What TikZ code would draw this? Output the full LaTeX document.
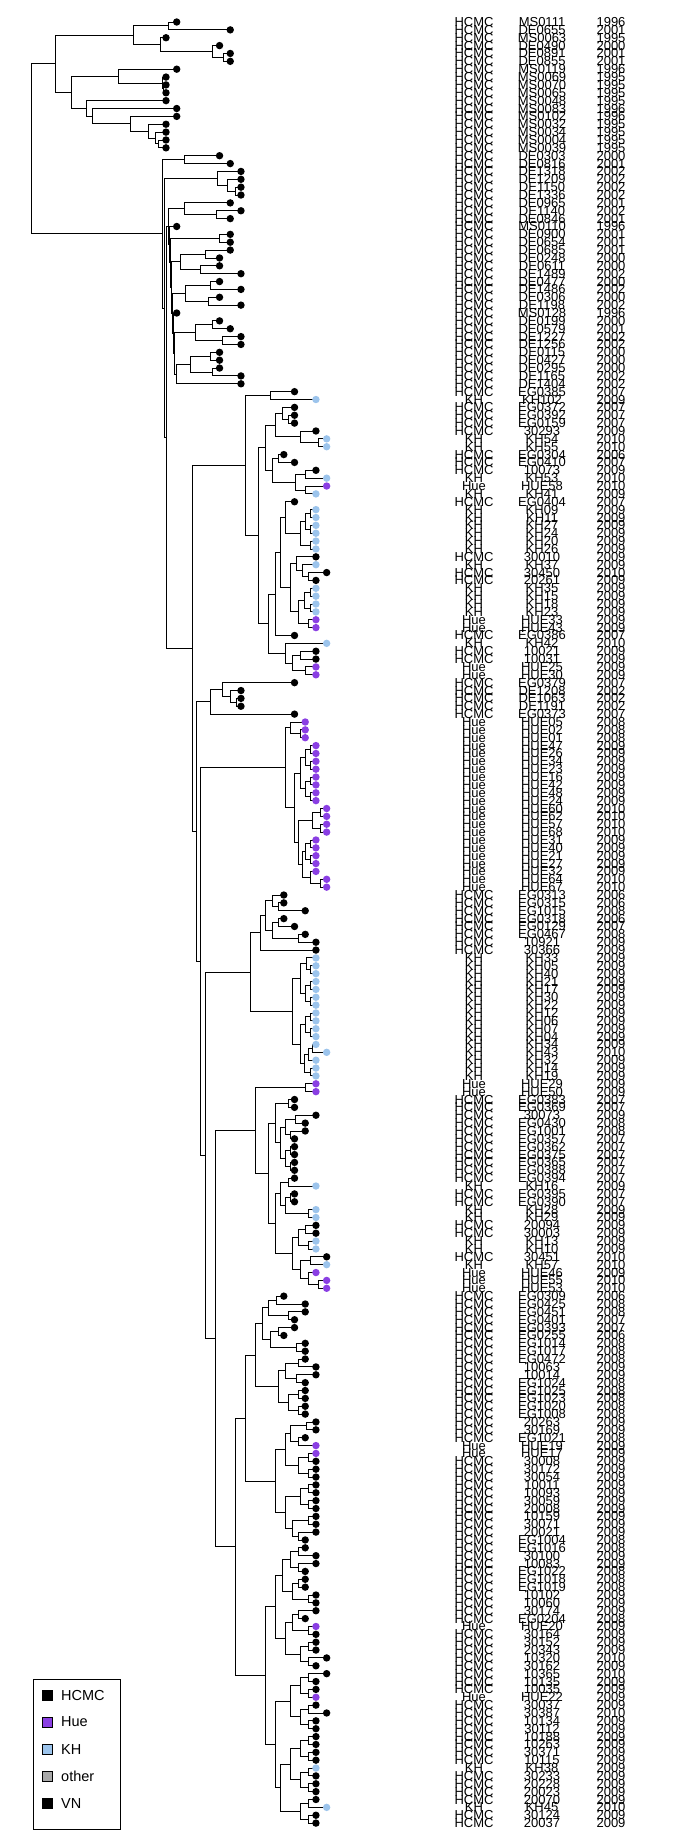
\documentclass[tikz,border=0pt]{standalone}
\usepackage{fontspec}
\setmainfont{Liberation Sans}
\usetikzlibrary{calc}
\pgfdeclarelayer{bg}
\pgfsetlayers{bg,main}
\definecolor{huec}{HTML}{8A3FE3}
\definecolor{khc}{HTML}{9CC4EC}
\definecolor{othc}{HTML}{A8A8A8}
\tikzset{
  br/.style={line width=0.9pt, black},
  dH/.style={fill=black}, dU/.style={fill=huec}, dK/.style={fill=khc},
  lab/.style={inner sep=0pt, anchor=base, font=\fontsize{13}{13}\selectfont},
  legsq/.style={draw=black, line width=0.5pt, minimum size=10pt, inner sep=0pt},
  legtx/.style={anchor=west, inner sep=0pt, font=\fontsize{14.5}{14.5}\selectfont}
}
\def\regH{HCMC}\def\regU{Hue}\def\regK{KH}
% tip: index, region letter, id, year
\newcommand\T[4]{%
  \pgfmathsetmacro\ty{22+(#1-1)*7.865}%
  \pgfmathsetmacro\tx{166+10.71*(#4-1995)}%
  \coordinate (t#1) at (\tx,\ty);
  \fill[d#2] (t#1) circle (3.7pt);
  \node[lab] (r#1) at (474,\ty+4.5) {\csname reg#2\endcsname};
  \node[lab] (i#1) at (542,\ty+4.5) {#3};
  \node[lab] (y#1) at (611,\ty+4.5) {#4};
}
% internal node: name, x, child1, child2
\newcommand\N[4]{%
  \path let \p1=(#3), \p2=(#4) in coordinate (#1) at (#2,{0.5*(\y1+\y2)});
  \begin{pgfonlayer}{bg}\draw[br] (#1) |- (#3) (#1) |- (#4);\end{pgfonlayer}
}
% quartet: name, a,b,c,d, x1,x2,x3
\newcommand\Q[8]{\N{#1a}{#6}{t#2}{t#3}\N{#1b}{#7}{t#4}{t#5}\N{#1}{#8}{#1a}{#1b}}
\begin{document}
\begin{tikzpicture}[x=1pt,y=-1pt]
\useasboundingbox (0,0) rectangle (675,1845);
\begin{pgfonlayer}{bg}\fill[white] (0,0) rectangle (675,1845);\end{pgfonlayer}
\T{1}{H}{MS0111}{1996}
\T{2}{H}{DE0655}{2001}
\T{3}{H}{MS0063}{1995}
\T{4}{H}{DE0490}{2000}
\T{5}{H}{DE0891}{2001}
\T{6}{H}{DE0855}{2001}
\T{7}{H}{MS0119}{1996}
\T{8}{H}{MS0069}{1995}
\T{9}{H}{MS0070}{1995}
\T{10}{H}{MS0065}{1995}
\T{11}{H}{MS0048}{1995}
\T{12}{H}{MS0083}{1996}
\T{13}{H}{MS0102}{1996}
\T{14}{H}{MS0032}{1995}
\T{15}{H}{MS0034}{1995}
\T{16}{H}{MS0004}{1995}
\T{17}{H}{MS0039}{1995}
\T{18}{H}{DE0303}{2000}
\T{19}{H}{DE0816}{2001}
\T{20}{H}{DE1318}{2002}
\T{21}{H}{DE1209}{2002}
\T{22}{H}{DE1150}{2002}
\T{23}{H}{DE1336}{2002}
\T{24}{H}{DE0965}{2001}
\T{25}{H}{DE1140}{2002}
\T{26}{H}{DE0846}{2001}
\T{27}{H}{MS0110}{1996}
\T{28}{H}{DE0900}{2001}
\T{29}{H}{DE0654}{2001}
\T{30}{H}{DE0685}{2001}
\T{31}{H}{DE0248}{2000}
\T{32}{H}{DE0611}{2000}
\T{33}{H}{DE1489}{2002}
\T{34}{H}{DE0477}{2000}
\T{35}{H}{DE1486}{2002}
\T{36}{H}{DE0306}{2000}
\T{37}{H}{DE1198}{2002}
\T{38}{H}{MS0128}{1996}
\T{39}{H}{DE0199}{2000}
\T{40}{H}{DE0579}{2001}
\T{41}{H}{DE1227}{2002}
\T{42}{H}{DE1256}{2002}
\T{43}{H}{DE0115}{2000}
\T{44}{H}{DE0427}{2000}
\T{45}{H}{DE0295}{2000}
\T{46}{H}{DE1165}{2002}
\T{47}{H}{DE1404}{2002}
\T{48}{H}{EG0385}{2007}
\T{49}{K}{KH102}{2009}
\T{50}{H}{EG0372}{2007}
\T{51}{H}{EG0392}{2007}
\T{52}{H}{EG0159}{2007}
\T{53}{H}{30293}{2009}
\T{54}{K}{KH54}{2010}
\T{55}{K}{KH55}{2010}
\T{56}{H}{EG0304}{2006}
\T{57}{H}{EG0410}{2007}
\T{58}{H}{10073}{2009}
\T{59}{K}{KH53}{2010}
\T{60}{U}{HUE58}{2010}
\T{61}{K}{KH41}{2009}
\T{62}{H}{EG0404}{2007}
\T{63}{K}{KH09}{2009}
\T{64}{K}{KH11}{2009}
\T{65}{K}{KH27}{2009}
\T{66}{K}{KH24}{2009}
\T{67}{K}{KH20}{2009}
\T{68}{K}{KH26}{2009}
\T{69}{H}{30010}{2009}
\T{70}{K}{KH37}{2009}
\T{71}{H}{30450}{2010}
\T{72}{H}{20261}{2009}
\T{73}{K}{KH35}{2009}
\T{74}{K}{KH15}{2009}
\T{75}{K}{KH18}{2009}
\T{76}{K}{KH23}{2009}
\T{77}{U}{HUE33}{2009}
\T{78}{U}{HUE43}{2009}
\T{79}{H}{EG0386}{2007}
\T{80}{K}{KH42}{2010}
\T{81}{H}{10021}{2009}
\T{82}{H}{10031}{2009}
\T{83}{U}{HUE25}{2009}
\T{84}{U}{HUE30}{2009}
\T{85}{H}{EG0379}{2007}
\T{86}{H}{DE1208}{2002}
\T{87}{H}{DE1063}{2002}
\T{88}{H}{DE1191}{2002}
\T{89}{H}{EG0373}{2007}
\T{90}{U}{HUE05}{2008}
\T{91}{U}{HUE02}{2008}
\T{92}{U}{HUE01}{2008}
\T{93}{U}{HUE47}{2009}
\T{94}{U}{HUE26}{2009}
\T{95}{U}{HUE34}{2009}
\T{96}{U}{HUE23}{2009}
\T{97}{U}{HUE16}{2009}
\T{98}{U}{HUE42}{2009}
\T{99}{U}{HUE48}{2009}
\T{100}{U}{HUE24}{2009}
\T{101}{U}{HUE60}{2010}
\T{102}{U}{HUE62}{2010}
\T{103}{U}{HUE57}{2010}
\T{104}{U}{HUE68}{2010}
\T{105}{U}{HUE31}{2009}
\T{106}{U}{HUE40}{2009}
\T{107}{U}{HUE21}{2009}
\T{108}{U}{HUE27}{2009}
\T{109}{U}{HUE32}{2009}
\T{110}{U}{HUE64}{2010}
\T{111}{U}{HUE67}{2010}
\T{112}{H}{EG0313}{2006}
\T{113}{H}{EG0315}{2006}
\T{114}{H}{EG1015}{2008}
\T{115}{H}{EG0318}{2006}
\T{116}{H}{EG0129}{2007}
\T{117}{H}{EG0467}{2008}
\T{118}{H}{10921}{2009}
\T{119}{H}{30366}{2009}
\T{120}{K}{KH33}{2009}
\T{121}{K}{KH05}{2009}
\T{122}{K}{KH40}{2009}
\T{123}{K}{KH21}{2009}
\T{124}{K}{KH17}{2009}
\T{125}{K}{KH30}{2009}
\T{126}{K}{KH22}{2009}
\T{127}{K}{KH12}{2009}
\T{128}{K}{KH06}{2009}
\T{129}{K}{KH07}{2009}
\T{130}{K}{KH04}{2009}
\T{131}{K}{KH34}{2009}
\T{132}{K}{KH43}{2010}
\T{133}{K}{KH32}{2009}
\T{134}{K}{KH14}{2009}
\T{135}{K}{KH19}{2009}
\T{136}{U}{HUE29}{2009}
\T{137}{U}{HUE50}{2009}
\T{138}{H}{EG0383}{2007}
\T{139}{H}{EG0369}{2007}
\T{140}{H}{30073}{2009}
\T{141}{H}{EG0430}{2008}
\T{142}{H}{EG1001}{2008}
\T{143}{H}{EG0357}{2007}
\T{144}{H}{EG0362}{2007}
\T{145}{H}{EG0375}{2007}
\T{146}{H}{EG0365}{2007}
\T{147}{H}{EG0388}{2007}
\T{148}{H}{EG0394}{2007}
\T{149}{K}{KH16}{2009}
\T{150}{H}{EG0395}{2007}
\T{151}{H}{EG0390}{2007}
\T{152}{K}{KH28}{2009}
\T{153}{K}{KH29}{2009}
\T{154}{H}{20094}{2009}
\T{155}{H}{30003}{2009}
\T{156}{K}{KH13}{2009}
\T{157}{K}{KH10}{2009}
\T{158}{H}{30451}{2010}
\T{159}{K}{KH57}{2010}
\T{160}{U}{HUE46}{2009}
\T{161}{U}{HUE55}{2010}
\T{162}{U}{HUE53}{2010}
\T{163}{H}{EG0309}{2006}
\T{164}{H}{EG0425}{2008}
\T{165}{H}{EG0451}{2008}
\T{166}{H}{EG0401}{2007}
\T{167}{H}{EG0393}{2007}
\T{168}{H}{EG0255}{2006}
\T{169}{H}{EG1014}{2008}
\T{170}{H}{EG1017}{2008}
\T{171}{H}{EG0472}{2008}
\T{172}{H}{10063}{2009}
\T{173}{H}{10014}{2009}
\T{174}{H}{EG1024}{2008}
\T{175}{H}{EG1025}{2008}
\T{176}{H}{EG1023}{2008}
\T{177}{H}{EG1020}{2008}
\T{178}{H}{EG1008}{2008}
\T{179}{H}{20263}{2009}
\T{180}{H}{30169}{2009}
\T{181}{H}{EG1021}{2008}
\T{182}{U}{HUE19}{2009}
\T{183}{U}{HUE17}{2009}
\T{184}{H}{30008}{2009}
\T{185}{H}{30172}{2009}
\T{186}{H}{30054}{2009}
\T{187}{H}{10011}{2009}
\T{188}{H}{10093}{2009}
\T{189}{H}{30059}{2009}
\T{190}{H}{20008}{2009}
\T{191}{H}{10159}{2009}
\T{192}{H}{30071}{2009}
\T{193}{H}{20021}{2009}
\T{194}{H}{EG1004}{2008}
\T{195}{H}{EG1016}{2008}
\T{196}{H}{30100}{2009}
\T{197}{H}{10083}{2009}
\T{198}{H}{EG1022}{2008}
\T{199}{H}{EG1018}{2008}
\T{200}{H}{EG1019}{2008}
\T{201}{H}{10102}{2009}
\T{202}{H}{10060}{2009}
\T{203}{H}{30174}{2009}
\T{204}{H}{EG0204}{2008}
\T{205}{U}{HUE20}{2009}
\T{206}{H}{30164}{2009}
\T{207}{H}{30152}{2009}
\T{208}{H}{20343}{2009}
\T{209}{H}{10320}{2010}
\T{210}{H}{30162}{2009}
\T{211}{H}{10365}{2010}
\T{212}{H}{10135}{2009}
\T{213}{H}{10035}{2009}
\T{214}{U}{HUE22}{2009}
\T{215}{H}{30037}{2009}
\T{216}{H}{30387}{2010}
\T{217}{H}{10134}{2009}
\T{218}{H}{30112}{2009}
\T{219}{H}{10188}{2009}
\T{220}{H}{10263}{2009}
\T{221}{H}{30371}{2009}
\T{222}{H}{10115}{2009}
\T{223}{K}{KH38}{2009}
\T{224}{H}{30233}{2009}
\T{225}{H}{20228}{2009}
\T{226}{H}{20023}{2009}
\T{227}{H}{20070}{2009}
\T{228}{K}{KH45}{2010}
\T{229}{H}{30124}{2009}
\T{230}{H}{20037}{2009}
% ---- top clade
\N{a1}{168}{t1}{t2}
\N{a2}{223}{t5}{t6}
\N{a3}{212}{t4}{a2}
\N{a4}{160}{t3}{a3}
\N{a5}{133}{a1}{a4}
\N{a6}{163}{t9}{t10}
\N{a7}{162}{t8}{a6}
\N{a8}{118}{t7}{a7}
\N{a9}{158}{t16}{t17}
\N{a10}{155}{t15}{a9}
\N{a11}{148}{t14}{a10}
\N{a12}{130}{t13}{a11}
\N{a13}{92}{t12}{a12}
\N{a14}{86}{t11}{a13}
\N{a15}{71}{a8}{a14}
\N{a16}{55}{a5}{a15}
% ---- DE clade
\N{b1}{184}{t18}{t19}
\N{b2}{235}{t22}{t23}
\N{b3}{227}{t21}{b2}
\N{b4}{217}{t20}{b3}
\N{b5}{216}{t25}{t26}
\N{b6}{184}{t24}{b5}
\N{b7}{219}{t28}{t29}
\N{b8}{205}{t30}{t31}
\N{b9}{200}{t32}{t33}
\N{b10}{180}{b8}{b9}
\N{b11}{210}{t34}{t35}
\N{b12}{208}{t36}{t37}
\N{b13}{185}{b11}{b12}
\N{b14}{212}{t39}{t40}
\N{b15}{222}{t41}{t42}
\N{b16}{195}{b14}{b15}
\N{b17}{210}{t43}{t44}
\N{b18}{212}{t45}{t46}
\N{b19}{190}{b17}{b18}
\N{c1}{176}{b19}{t47}
\N{c2}{174}{b16}{c1}
\N{c3}{173}{t38}{c2}
\N{c4}{172}{b13}{c3}
\N{c5}{171}{b10}{c4}
\N{c6}{170}{b7}{c5}
\N{c7}{169}{t27}{c6}
\N{c8}{168}{b6}{c7}
% ---- K clade
\N{k0}{270}{t48}{t49}
\N{k1}{288}{t51}{t52}
\N{k2}{282}{t50}{k1}
\N{k3}{318}{t54}{t55}
\N{k4}{300}{t53}{k3}
\N{k5}{275}{k2}{k4}
\N{k6}{278}{t56}{t57}
\N{k7}{305}{t58}{t59}
\N{k8}{305}{t60}{t61}
\N{k9}{295}{k7}{k8}
\N{k10}{272}{k6}{k9}
\N{k11}{265}{k5}{k10}
\N{k12}{310}{t63}{t64}
\N{k13}{310}{t65}{t66}
\N{k14}{305}{k12}{k13}
\N{k15}{310}{t67}{t68}
\N{k16}{300}{k14}{k15}
\N{k17}{285}{t62}{k16}
\N{k18}{308}{t71}{t72}
\N{k19}{302}{t70}{k18}
\N{k20}{296}{t69}{k19}
\N{k21}{310}{t73}{t74}
\N{k22}{310}{t75}{t76}
\N{k23}{304}{k21}{k22}
\N{k24}{308}{t77}{t78}
\N{k25}{298}{k23}{k24}
\N{k26}{290}{k20}{k25}
\N{k27}{280}{k17}{k26}
\N{k28}{275}{k27}{t79}
\N{k29}{300}{t81}{t82}
\N{k30}{305}{t83}{t84}
\N{k31}{292}{k29}{k30}
\N{k32}{285}{t80}{k31}
\N{k33}{268}{k28}{k32}
\N{k34}{258}{k11}{k33}
\N{K}{245}{k0}{k34}
% ---- Mx
\N{m1}{236}{t87}{t88}
\N{m2}{230}{t86}{m1}
\N{m3}{222}{t85}{m2}
\N{Mx}{210}{m3}{t89}
% ---- Hue clade
\N{u1}{300}{t91}{t92}
\N{u2}{290}{t90}{u1}
\N{u3}{310}{t93}{t94}
\N{u4}{310}{t95}{t96}
\N{u5}{305}{u3}{u4}
\N{u6}{310}{t97}{t98}
\N{u7}{310}{t99}{t100}
\N{u8}{305}{u6}{u7}
\N{u9}{300}{u5}{u8}
\N{u10}{320}{t101}{t102}
\N{u11}{320}{t103}{t104}
\N{u12}{312}{u10}{u11}
\N{u13}{310}{t105}{t106}
\N{u14}{310}{t107}{t108}
\N{u15}{305}{u13}{u14}
\N{u16}{320}{t110}{t111}
\N{u17}{310}{t109}{u16}
\N{u18}{302}{u15}{u17}
\N{u19}{298}{u12}{u18}
\N{u20}{294}{u9}{u19}
\N{H}{285}{u2}{u20}
% ---- G
\N{g1}{278}{t113}{t114}
\N{g2}{272}{t112}{g1}
\N{g3}{278}{t115}{t116}
\N{g4}{298}{t117}{t118}
\N{g5}{272}{g3}{g4}
\N{g6}{265}{g2}{g5}
\N{g7}{260}{g6}{t119}
\N{q1}{310}{t121}{t122}
\N{q2}{306}{t120}{q1}
\N{q3}{310}{t123}{t124}
\N{q4}{310}{t125}{t126}
\N{q5}{305}{q3}{q4}
\N{q6}{300}{q2}{q5}
\N{q7}{310}{t127}{t128}
\N{q8}{310}{t129}{t130}
\N{q9}{305}{q7}{q8}
\N{q10}{312}{t131}{t132}
\N{q11}{308}{q10}{t133}
\N{q12}{310}{t134}{t135}
\N{q13}{304}{q11}{q12}
\N{q14}{300}{q9}{q13}
\N{q15}{292}{q6}{q14}
\N{G}{250}{g7}{q15}
% ---- F
\N{f1}{305}{t136}{t137}
\N{f2}{288}{t138}{t139}
\N{f3}{295}{t140}{t141}
\N{f4}{290}{t142}{t143}
\N{f5}{285}{f3}{f4}
\N{f6}{290}{t144}{t145}
\N{f7}{290}{t146}{t147}
\N{f8}{285}{f6}{f7}
\N{f9}{280}{f5}{f8}
\N{f10}{275}{f2}{f9}
\N{f11}{288}{t148}{t149}
\N{f12}{290}{t150}{t151}
\N{f13}{308}{t152}{t153}
\N{f14}{285}{f12}{f13}
\N{f15}{280}{f11}{f14}
\N{f16}{305}{t154}{t155}
\N{f17}{308}{t156}{t157}
\N{f18}{298}{f16}{f17}
\N{f19}{310}{t158}{t159}
\N{f20}{318}{t161}{t162}
\N{f21}{308}{t160}{f20}
\N{f22}{300}{f19}{f21}
\N{f23}{292}{f18}{f22}
\N{f24}{275}{f15}{f23}
\N{f25}{268}{f10}{f24}
\N{F}{255}{f1}{f25}
% ---- E
\Q{e1}{163}{164}{165}{166}{276}{288}{268}
\Q{e2}{167}{168}{169}{170}{278}{296}{270}
\Q{e3}{171}{172}{173}{174}{298}{296}{285}
\Q{e4}{175}{176}{177}{178}{298}{298}{288}
\Q{e5}{179}{180}{181}{182}{306}{298}{290}
\Q{e6}{183}{184}{185}{186}{308}{308}{298}
\Q{e7}{187}{188}{189}{190}{308}{308}{300}
\Q{e8}{191}{192}{193}{194}{308}{298}{292}
\Q{e9}{195}{196}{197}{198}{298}{298}{290}
\Q{e10}{199}{200}{201}{202}{298}{308}{292}
\Q{e11}{203}{204}{205}{206}{298}{308}{292}
\Q{e12}{207}{208}{209}{210}{308}{308}{300}
\Q{e13}{211}{212}{213}{214}{308}{308}{300}
\Q{e14}{215}{216}{217}{218}{308}{308}{300}
\Q{e15}{219}{220}{221}{222}{308}{308}{300}
\Q{e16}{223}{224}{225}{226}{308}{308}{300}
\Q{e17}{227}{228}{229}{230}{308}{308}{300}
\N{E1}{262}{e1}{e2}
\N{E2}{278}{e3}{e4}
\N{E3}{285}{e5}{e6}
\N{E4}{285}{e7}{e8}
\N{E5}{282}{e9}{e10}
\N{E6}{285}{e11}{e12}
\N{E7}{290}{e13}{e14}
\N{E8}{290}{e15}{e16}
\N{E8b}{280}{E8}{e17}
\N{EE1}{255}{E1}{E2}
\N{EE2}{275}{E3}{E4}
\N{EE3}{275}{E5}{E6}
\N{EE4}{275}{E7}{E8b}
\N{EEE1}{245}{EE1}{EE2}
\N{EEE2}{265}{EE3}{EE4}
\N{E}{235}{EEE1}{EEE2}
% ---- backbone
\N{M4}{215}{F}{E}
\N{M3}{205}{G}{M4}
\N{M2}{200}{H}{M3}
\N{M}{196}{Mx}{M2}
\N{L}{192}{K}{M}
\N{X2}{166}{c8}{L}
\N{X1}{164}{b4}{X2}
\N{B}{162}{b1}{X1}
\N{root}{31}{a16}{B}
% ---- legend
\draw[line width=0.8pt] (33,1679) rectangle (120,1829);
\node[legsq, fill=black] (s1) at (47.5,1695) {};
\node[legsq, fill=huec] (s2) at (47.5,1722) {};
\node[legsq, fill=khc] (s3) at (47.5,1749) {};
\node[legsq, fill=othc] (s4) at (47.5,1776) {};
\node[legsq, fill=black] (s5) at (47.5,1803) {};
\node[legtx] (l1) at (61,1695) {HCMC};
\node[legtx] (l2) at (61,1722) {Hue};
\node[legtx] (l3) at (61,1749) {KH};
\node[legtx] (l4) at (61,1776) {other};
\node[legtx] (l5) at (61,1803) {VN};
\end{tikzpicture}
\end{document}
